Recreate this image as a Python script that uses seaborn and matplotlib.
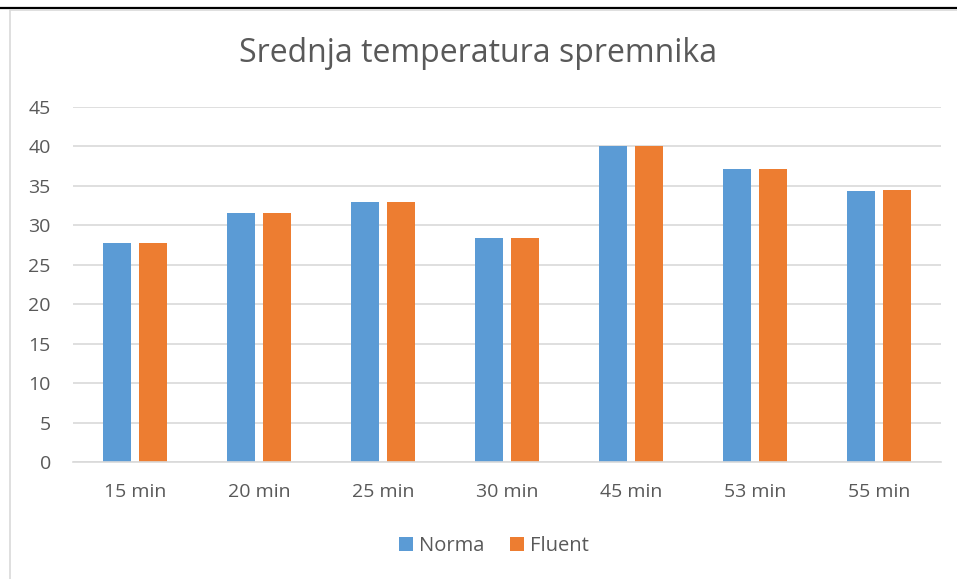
import matplotlib
matplotlib.use("Agg")
import matplotlib.pyplot as plt
import seaborn as sns
import pandas as pd
from matplotlib.lines import Line2D
from matplotlib.patches import Patch

categories = ["15 min", "20 min", "25 min", "30 min", "45 min", "53 min", "55 min"]
norma = [27.7, 31.6, 32.9, 28.35, 40.0, 37.1, 34.4]
fluent = [27.7, 31.6, 32.9, 28.35, 40.05, 37.2, 34.5]
series_names = ["Norma", "Fluent"]
yticks = [0, 5, 10, 15, 20, 25, 30, 35, 40, 45]

colors = ["#5B9BD5", "#ED7D31"]
text_color = "#595959"
grid_color = "#D9D9D9"

df = pd.DataFrame({
    "cat": categories * 2,
    "val": norma + fluent,
    "series": [series_names[0]] * len(categories) + [series_names[1]] * len(categories),
})

sns.set_style("white")
plt.rcParams["font.family"] = ["Open Sans", "DejaVu Sans"]

fig = plt.figure(figsize=(9.57, 5.79), dpi=100)
ax = fig.add_axes([73 / 957, 1 - 462 / 579, (941 - 73) / 957, (462 - 107) / 579])

sns.barplot(data=df, x="cat", y="val", hue="series", palette=colors,
            width=0.565, gap=0.2, ax=ax, legend=False, saturation=1,
            edgecolor="none", linewidth=0)

ax.set_ylim(0, 45)
ax.set_xlim(-0.5, len(categories) - 0.5)
ax.set_yticks(yticks)
ax.set_yticklabels([str(t) for t in yticks])
ax.yaxis.grid(True, color=grid_color, linewidth=1.2)
ax.set_axisbelow(True)
for s in ["top", "right", "left"]:
    ax.spines[s].set_visible(False)
ax.spines["bottom"].set_color(grid_color)
ax.spines["bottom"].set_linewidth(1.2)
ax.tick_params(axis="both", length=0, labelsize=14, colors=text_color)
ax.tick_params(axis="y", pad=16)
ax.tick_params(axis="x", pad=15)
ax.set_xlabel("")
ax.set_ylabel("")

fig.text(0.5, 1 - 54 / 579, "Srednja temperatura spremnika", ha="center", va="center",
         fontsize=23, color=text_color)

handles = [Patch(facecolor=c, edgecolor="none") for c in colors]
fig.legend(handles, series_names, loc="center", bbox_to_anchor=(494 / 957, 1 - 546 / 579),
           ncol=2, frameon=False, fontsize=14.5, labelcolor=text_color,
           handlelength=0.7, handleheight=0.7, handletextpad=0.3, columnspacing=1.3)

# frame lines
fig.add_artist(Line2D([0, 1], [1 - 7.5 / 579, 1 - 7.5 / 579], color="black", linewidth=1.6,
                      transform=fig.transFigure))
fig.add_artist(Line2D([9.5 / 957, 1], [1 - 9.5 / 579, 1 - 9.5 / 579], color=grid_color, linewidth=1.2,
                      transform=fig.transFigure))
fig.add_artist(Line2D([9.5 / 957, 9.5 / 957], [0, 1 - 9.5 / 579], color=grid_color, linewidth=1.2,
                      transform=fig.transFigure))

fig.savefig("out.png", dpi=100)
